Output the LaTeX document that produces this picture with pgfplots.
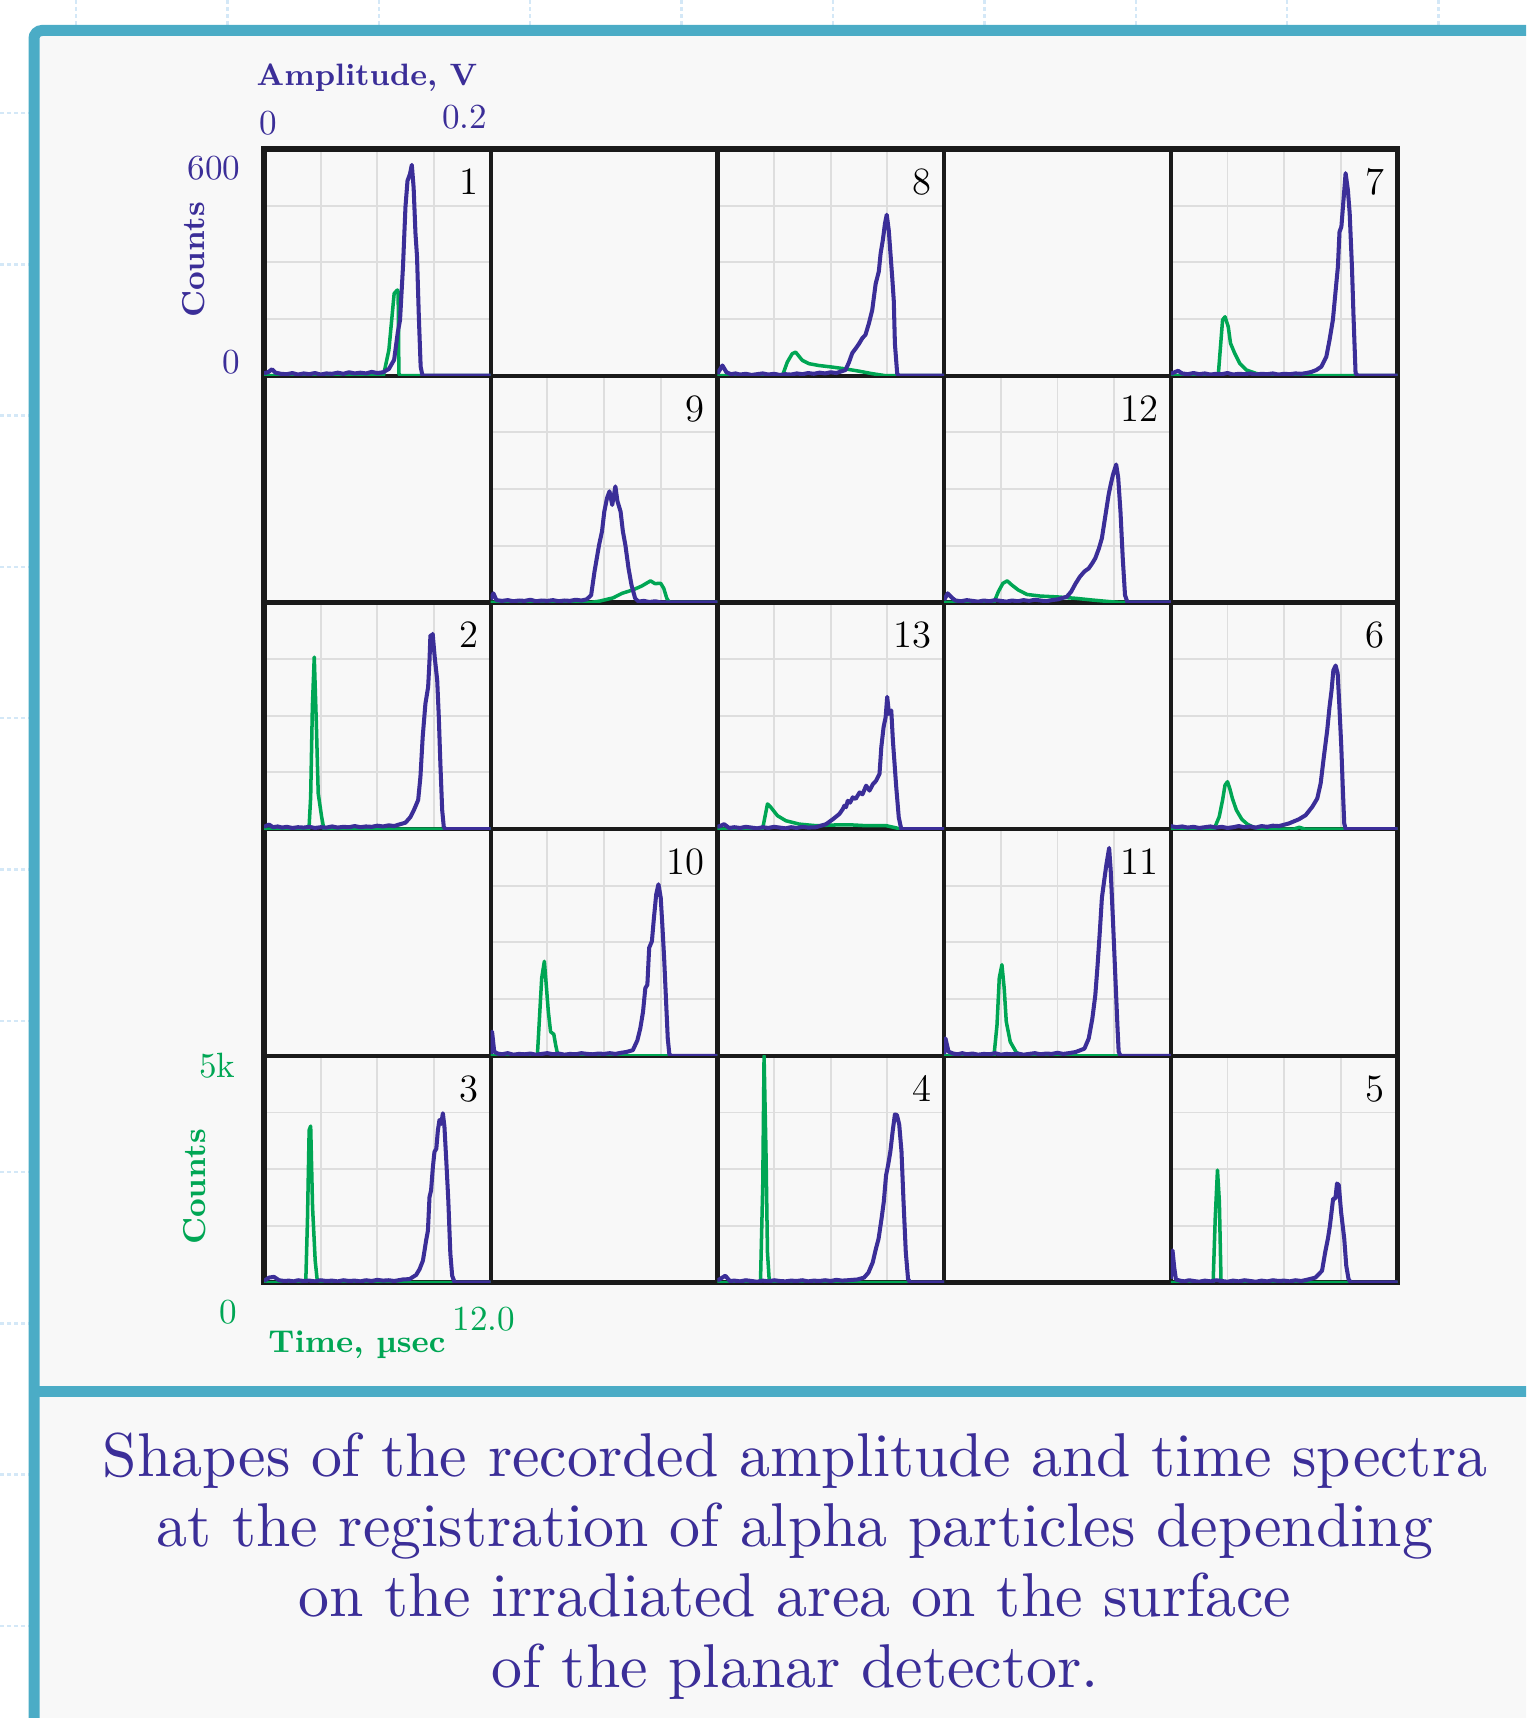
\documentclass[border=0pt]{standalone}
\usepackage{fontspec}
\usepackage{pgfplots}
\pgfplotsset{compat=1.18}
\newfontfamily\capfont{lmroman10-regular.otf}

\definecolor{ampblue}{RGB}{59,46,152}
\definecolor{timegreen}{RGB}{0,166,84}
\definecolor{frameteal}{RGB}{75,172,198}
\definecolor{panelgrey}{RGB}{248,248,248}
\definecolor{gridgrey}{RGB}{222,222,222}
\definecolor{dotblue}{RGB}{212,232,247}
\definecolor{cellblack}{RGB}{26,26,26}

\pgfplotsset{
  cellbox/.style={width=22.67mm, height=22.67mm, scale only axis, anchor=south west},
  cellpos/.style 2 args={at={({26.4mm+#1*22.67mm},{-14.9mm-(#2+1)*22.67mm})}},
  gridaxis/.style={cellbox, xmin=0, xmax=12, ymin=0, ymax=5000,
    xtick={3,6,9}, ytick={1250,2500,3750}, xticklabels={}, yticklabels={},
    major tick length=0pt, axis line style={draw=none},
    grid=major, grid style={gridgrey, line width=0.55pt}},
  greenaxis/.style={cellbox, hide axis, xmin=0, xmax=12, ymin=0, ymax=5000},
  blueaxis/.style={cellbox, hide axis, xmin=0, xmax=0.2, ymin=0, ymax=600},
}

% one spectrum cell: col, row, number, time spectrum (usec, counts), amplitude spectrum (V, counts)
\newcommand{\datacell}[5]{%
  \begin{axis}[greenaxis, cellpos={#1}{#2}]
    \addplot[timegreen, line width=1.0pt, line join=round] coordinates {#4};
  \end{axis}
  \begin{axis}[blueaxis, cellpos={#1}{#2}]
    \addplot[ampblue, line width=1.15pt, line join=round] coordinates {#5};
    \node[anchor=base east, inner sep=0pt, font=\fontsize{11}{13}\selectfont] at (rel axis cs:0.947,0.80) {#3};
  \end{axis}}

\begin{document}
\begin{tikzpicture}
\path[use as bounding box] (0,0) rectangle (152.6mm,-171.8mm);

% background and frame
\begin{scope}
  \clip (0,0) rectangle (152.6mm,-171.8mm);
  \foreach \k in {0,...,9}
    \draw[dotblue, line width=0.7pt, dash pattern=on 1pt off 1pt] ({7.6mm+\k*15.14mm},0) -- ({7.6mm+\k*15.14mm},-2.7mm);
  \foreach \k in {0,...,10}
    \draw[dotblue, line width=0.7pt, dash pattern=on 1pt off 1pt] (0,{-11.3mm-\k*15.13mm}) -- (2.9mm,{-11.3mm-\k*15.13mm});
  \fill[panelgrey] (3.4mm,-3.05mm) rectangle (170mm,-180mm);
  \draw[frameteal, line width=1.1mm, rounded corners=0.8mm] (170mm,-3.05mm) -- (3.4mm,-3.05mm) -- (3.4mm,-180mm);
  \draw[frameteal, line width=1.1mm] (3.4mm,-139.1mm) -- (170mm,-139.1mm);
\end{scope}

% light grid in the cells that hold spectra
\foreach \c/\r in {0/0,2/0,4/0,1/1,3/1,0/2,2/2,4/2,1/3,3/3,0/4,2/4,4/4}{
  \begin{axis}[gridaxis, cellpos={\c}{\r}]
  \end{axis}
}

% cell borders
\foreach \k in {1,...,4}{
  \draw[cellblack, line width=1.25pt] ({26.4mm+\k*22.67mm},-14.9mm) -- ({26.4mm+\k*22.67mm},-128.25mm);
  \draw[cellblack, line width=1.25pt] (26.4mm,{-14.9mm-\k*22.67mm}) -- (139.75mm,{-14.9mm-\k*22.67mm});
}
\draw[cellblack, line width=1.55pt] (26.4mm,-14.9mm) rectangle (139.75mm,-128.25mm);

% ---- row 1 ----
\datacell{0}{0}{1}
 {(0,0) (6.32,0) (6.61,565) (6.89,1815) (7.06,1890) (7.10,1850) (7.14,50) (7.2,0) (12,0)}
 {(0,6) (0.004,10) (0.007,17) (0.010,8) (0.015,5) (0.020,4) (0.025,7) (0.030,3) (0.035,6) (0.040,4)
  (0.045,7) (0.050,3) (0.055,6) (0.060,5) (0.065,8) (0.070,5) (0.075,9) (0.080,6) (0.085,8) (0.090,6)
  (0.095,10) (0.100,7) (0.105,9) (0.1102,18) (0.1148,42) (0.118,114) (0.120,147) (0.1226,288)
  (0.1248,447) (0.1266,516) (0.1288,534) (0.1304,558) (0.132,498) (0.1336,378) (0.135,315)
  (0.1366,156) (0.1382,24) (0.1398,0) (0.2,0)}

\datacell{2}{0}{8}
 {(0,0) (3.44,0) (3.70,300) (3.96,485) (4.14,520) (4.49,340) (4.85,265) (5.37,225) (6.08,190)
  (6.78,150) (7.49,100) (8.19,45) (8.90,0) (12,0)}
 {(0,5) (0.0044,27) (0.008,9) (0.012,4) (0.016,6) (0.020,3) (0.025,5) (0.030,2) (0.035,4) (0.040,6)
  (0.045,3) (0.050,5) (0.055,2) (0.060,4) (0.065,3) (0.070,6) (0.075,4) (0.080,7) (0.085,5) (0.090,8)
  (0.095,6) (0.100,9) (0.105,7) (0.110,12) (0.113,15) (0.116,35) (0.119,60) (0.122,72) (0.1248,84)
  (0.128,100) (0.1306,108) (0.1336,138) (0.1366,174) (0.1396,243) (0.1424,276) (0.144,324) (0.146,360)
  (0.1478,402) (0.1494,426) (0.1512,384) (0.1542,261) (0.1556,198) (0.1566,84) (0.1586,6) (0.160,0) (0.2,0)}

\datacell{4}{0}{7}
 {(0,0) (2.51,0) (2.74,1230) (2.87,1300) (3.04,1080) (3.16,715) (3.38,495) (3.65,270) (4.0,125)
  (4.52,50) (5.05,0) (12,0)}
 {(0,5) (0.0064,13) (0.010,6) (0.015,4) (0.020,7) (0.025,4) (0.030,6) (0.035,3) (0.040,5) (0.045,4)
  (0.050,7) (0.055,3) (0.060,5) (0.065,4) (0.070,6) (0.075,3) (0.080,5) (0.085,4) (0.090,6) (0.095,3)
  (0.100,5) (0.105,4) (0.110,6) (0.115,5) (0.1196,7) (0.124,10) (0.1284,15) (0.1328,24) (0.1372,50)
  (0.140,94) (0.143,148) (0.146,244) (0.1474,288) (0.1488,380) (0.1505,395) (0.1528,482) (0.1542,536)
  (0.1562,492) (0.1578,430) (0.1598,288) (0.1612,156) (0.163,6) (0.165,0) (0.2,0)}

% ---- row 2 ----
\datacell{1}{1}{9}
 {(0,0) (5.32,0) (5.78,30) (6.48,100) (6.95,200) (7.52,275) (7.99,360) (8.46,475) (8.69,415)
  (9.0,420) (9.16,310) (9.32,90) (9.46,0) (12,0)}
 {(0,8) (0.0024,24) (0.005,6) (0.010,4) (0.015,6) (0.020,3) (0.025,5) (0.030,4) (0.035,7) (0.040,3)
  (0.045,5) (0.050,4) (0.055,6) (0.060,3) (0.065,5) (0.070,4) (0.075,7) (0.080,5) (0.0846,8)
  (0.0886,19) (0.0916,82) (0.0956,152) (0.0982,188) (0.1002,240) (0.1026,276) (0.1048,294)
  (0.1072,258) (0.110,307) (0.1118,268) (0.1146,240) (0.1166,188) (0.1188,152) (0.1216,90)
  (0.1242,46) (0.1274,11) (0.1304,2) (0.135,4) (0.140,1) (0.145,3) (0.150,0) (0.2,0)}

\datacell{3}{1}{12}
 {(0,0) (2.64,0) (2.87,235) (3.11,420) (3.34,475) (3.58,385) (3.92,275) (4.39,175) (5.09,140)
  (6.02,120) (6.96,90) (7.90,50) (8.82,15) (9.29,0) (12,0)}
 {(0,6) (0.0031,24) (0.007,12) (0.010,5) (0.015,3) (0.020,6) (0.025,4) (0.030,2) (0.035,5) (0.040,3)
  (0.045,6) (0.050,4) (0.055,2) (0.060,5) (0.065,3) (0.070,6) (0.075,4) (0.080,7) (0.085,5) (0.090,3)
  (0.095,6) (0.1004,8) (0.1082,15) (0.112,28) (0.116,50) (0.1198,68) (0.1238,82) (0.1276,90)
  (0.1308,104) (0.1334,117) (0.1366,143) (0.1392,170) (0.1424,232) (0.1452,286) (0.147,312)
  (0.149,338) (0.1518,365) (0.1536,330) (0.1556,240) (0.1576,117) (0.1596,19) (0.1618,0) (0.2,0)}

% ---- row 3 ----
\datacell{0}{2}{2}
 {(0,0) (2.38,0) (2.47,710) (2.56,2695) (2.66,3795) (2.77,2330) (2.87,785) (3.05,270) (3.17,0) (12,0)}
 {(0,6) (0.0044,12) (0.008,5) (0.012,7) (0.016,4) (0.020,6) (0.025,3) (0.030,5) (0.035,4) (0.040,6)
  (0.045,3) (0.050,5) (0.055,4) (0.060,7) (0.065,4) (0.070,6) (0.075,5) (0.080,8) (0.085,5) (0.090,7)
  (0.095,6) (0.100,9) (0.105,7) (0.110,10) (0.115,8) (0.119,12) (0.1248,17) (0.1292,32) (0.1322,50)
  (0.136,77) (0.138,138) (0.140,244) (0.1424,332) (0.1448,376) (0.146,446) (0.1468,513) (0.1478,480)
  (0.1488,517) (0.1506,455) (0.1528,394) (0.1542,298) (0.1556,173) (0.1572,50) (0.1586,6) (0.160,0) (0.2,0)}

\datacell{2}{2}{13}
 {(0,0) (2.39,0) (2.65,555) (2.83,480) (3.18,295) (3.62,185) (4.33,110) (5.22,75) (6.11,90) (7.0,95)
  (7.87,75) (8.94,75) (9.48,25) (9.65,0) (12,0)}
 {(0,6) (0.003,9) (0.0059,13) (0.0103,3) (0.015,5) (0.020,3) (0.025,6) (0.030,4) (0.035,2) (0.040,5)
  (0.045,3) (0.050,6) (0.055,4) (0.060,2) (0.065,5) (0.070,3) (0.075,6) (0.080,4) (0.087,5) (0.0958,13)
  (0.1018,26) (0.1076,40) (0.1106,53) (0.112,62) (0.1135,58) (0.115,75) (0.117,70) (0.1194,84)
  (0.122,80) (0.1254,97) (0.128,92) (0.1312,115) (0.1342,102) (0.1372,119) (0.140,128) (0.143,146)
  (0.1446,217) (0.1466,270) (0.1484,296) (0.1498,350) (0.1514,305) (0.1534,314) (0.1548,235)
  (0.1578,110) (0.160,31) (0.1622,0) (0.2,0)}

\datacell{4}{2}{6}
 {(0,0) (2.29,0) (2.56,270) (2.74,640) (2.87,970) (3.0,1045) (3.12,895) (3.26,675) (3.47,420)
  (3.76,215) (4.06,105) (4.40,35) (4.85,0) (6.5,0) (6.8,40) (7.1,0) (12,0)}
 {(0,8) (0.005,5) (0.010,7) (0.015,4) (0.020,6) (0.025,3) (0.030,5) (0.035,7) (0.040,4) (0.045,6)
  (0.050,3) (0.055,5) (0.060,8) (0.065,5) (0.070,7) (0.075,4) (0.080,8) (0.085,6) (0.090,9) (0.0954,8)
  (0.1042,15) (0.113,26) (0.119,37) (0.1248,59) (0.1292,81) (0.1322,121) (0.135,191) (0.138,262)
  (0.140,323) (0.1418,367) (0.1434,420) (0.1454,433) (0.1472,412) (0.1486,332) (0.1504,218)
  (0.1518,103) (0.153,15) (0.1542,0) (0.2,0)}

% ---- row 4 ----
\datacell{1}{3}{10}
 {(0,0) (2.47,0) (2.60,975) (2.70,1715) (2.84,2085) (2.94,1565) (3.05,975) (3.17,530) (3.34,475)
  (3.44,235) (3.56,0) (12,0)}
 {(0,5) (0.0012,64) (0.0031,11) (0.006,6) (0.010,4) (0.015,7) (0.020,3) (0.025,5) (0.030,4) (0.035,6)
  (0.040,3) (0.045,5) (0.050,7) (0.055,4) (0.060,6) (0.065,3) (0.070,5) (0.075,4) (0.080,7) (0.085,5)
  (0.090,4) (0.095,6) (0.100,5) (0.105,7) (0.110,5) (0.115,8) (0.1196,10) (0.1254,15) (0.1294,41)
  (0.132,73) (0.1344,117) (0.1364,179) (0.1382,188) (0.1398,286) (0.1422,303) (0.144,365) (0.146,427)
  (0.148,454) (0.150,418) (0.1514,347) (0.153,259) (0.1546,152) (0.1562,46) (0.1576,4) (0.1592,0) (0.2,0)}

\datacell{3}{3}{11}
 {(0,0) (2.64,0) (2.80,680) (2.92,1715) (3.06,2010) (3.18,1490) (3.29,755) (3.50,310) (3.80,90)
  (4.04,0) (12,0)}
 {(0,4) (0.0012,46) (0.0039,11) (0.008,6) (0.012,4) (0.016,7) (0.020,4) (0.025,6) (0.030,3) (0.035,5)
  (0.040,4) (0.045,7) (0.050,3) (0.055,5) (0.060,4) (0.065,6) (0.070,3) (0.075,5) (0.080,7) (0.085,4)
  (0.090,6) (0.095,5) (0.100,8) (0.105,5) (0.110,7) (0.116,10) (0.1238,19) (0.1276,46) (0.1308,99)
  (0.1334,161) (0.1354,240) (0.1374,330) (0.1392,418) (0.1412,463) (0.1432,507) (0.1456,550)
  (0.147,489) (0.149,356) (0.151,214) (0.153,73) (0.154,11) (0.1556,0) (0.2,0)}

% ---- row 5 ----
\datacell{0}{4}{3}
 {(0,0) (2.21,0) (2.30,1365) (2.39,3360) (2.47,3450) (2.57,1660) (2.71,480) (2.83,0) (12,0)}
 {(0,4) (0.0044,13) (0.0088,15) (0.0133,6) (0.018,4) (0.022,5) (0.026,3) (0.030,6) (0.035,4) (0.040,5)
  (0.045,3) (0.050,6) (0.055,4) (0.060,5) (0.065,3) (0.070,6) (0.075,4) (0.080,5) (0.085,3) (0.090,6)
  (0.095,4) (0.100,7) (0.105,5) (0.110,6) (0.115,4) (0.1224,8) (0.1284,9) (0.1342,20) (0.1372,35)
  (0.1402,58) (0.1416,84) (0.143,111) (0.1446,137) (0.146,226) (0.1474,244) (0.149,306) (0.1504,346)
  (0.152,354) (0.1534,403) (0.1548,430) (0.1564,420) (0.1578,448) (0.1592,412) (0.1608,323)
  (0.1626,217) (0.1644,76) (0.166,18) (0.1682,0) (0.2,0)}

\datacell{2}{4}{4}
 {(0,0) (2.28,0) (2.40,2150) (2.47,5000) (2.57,2890) (2.65,665) (2.75,0) (12,0)}
 {(0,5) (0.007,18) (0.0109,4) (0.015,5) (0.020,3) (0.025,6) (0.030,4) (0.035,2) (0.040,5) (0.045,3)
  (0.050,6) (0.055,4) (0.060,3) (0.065,5) (0.070,4) (0.075,6) (0.080,3) (0.085,5) (0.090,4) (0.095,6)
  (0.100,4) (0.105,7) (0.110,5) (0.115,6) (0.1234,8) (0.1294,13) (0.1332,26) (0.137,53) (0.1398,89)
  (0.1422,116) (0.1448,169) (0.1468,214) (0.1488,284) (0.1506,311) (0.1526,347) (0.1546,400)
  (0.1566,445) (0.1584,443) (0.1604,418) (0.1624,347) (0.1642,214) (0.1662,80) (0.1682,9) (0.170,0) (0.2,0)}

\datacell{4}{4}{5}
 {(0,0) (2.24,0) (2.35,1405) (2.47,2480) (2.57,1780) (2.66,0) (12,0)}
 {(0,10) (0.0015,85) (0.003,40) (0.0045,8) (0.008,5) (0.012,3) (0.016,6) (0.020,4) (0.025,2) (0.030,5)
  (0.035,3) (0.040,6) (0.045,4) (0.050,2) (0.055,5) (0.060,3) (0.065,6) (0.070,4) (0.075,2) (0.080,5)
  (0.085,3) (0.090,6) (0.095,4) (0.100,5) (0.105,3) (0.110,6) (0.115,4) (0.1198,7) (0.1276,13)
  (0.1334,31) (0.1362,80) (0.1386,116) (0.1404,151) (0.1432,222) (0.1452,222) (0.1466,262)
  (0.1482,258) (0.1502,187) (0.153,116) (0.1548,44) (0.1568,9) (0.1588,0) (0.2,0)}

% axis captions and scale marks
\begin{scope}[every node/.style={inner sep=0pt}, font=\fontsize{10}{12}\selectfont]
  \node[ampblue, anchor=base west, font=\fontsize{8.8}{11}\selectfont\bfseries] at (25.6mm,-8.6mm) {Amplitude, V};
  \node[ampblue, anchor=base] at (26.8mm,-13.5mm) {0};
  \node[ampblue, anchor=base] at (46.45mm,-12.9mm) {0.2};
  \node[ampblue, anchor=base east] at (24.1mm,-18.0mm) {600};
  \node[ampblue, anchor=base east] at (24.1mm,-37.4mm) {0};
  \node[ampblue, rotate=90, font=\fontsize{9}{11}\selectfont\bfseries] at (19.4mm,-26.0mm) {Counts};
  \node[timegreen, anchor=base east] at (23.6mm,-107.7mm) {5k};
  \node[timegreen, rotate=90, font=\fontsize{9}{11}\selectfont\bfseries] at (19.5mm,-118.7mm) {Counts};
  \node[timegreen, anchor=base] at (22.8mm,-132.3mm) {0};
  \node[timegreen, anchor=base, font=\fontsize{9}{11}\selectfont\bfseries] at (35.7mm,-135.2mm) {Time, µsec};
  \node[timegreen, anchor=base west] at (45.2mm,-133.0mm) {12.0};
\end{scope}

% caption
\begin{scope}[every node/.style={ampblue, anchor=base, font=\capfont\fontsize{17.6}{20}\selectfont}]
  \node at (79.5mm,-147.6mm) {Shapes of the recorded amplitude and time spectra};
  \node at (79.5mm,-154.6mm) {at the registration of alpha particles depending};
  \node at (79.5mm,-161.6mm) {on the irradiated area on the surface};
  \node at (79.5mm,-168.7mm) {of the planar detector.};
\end{scope}
\end{tikzpicture}
\end{document}
